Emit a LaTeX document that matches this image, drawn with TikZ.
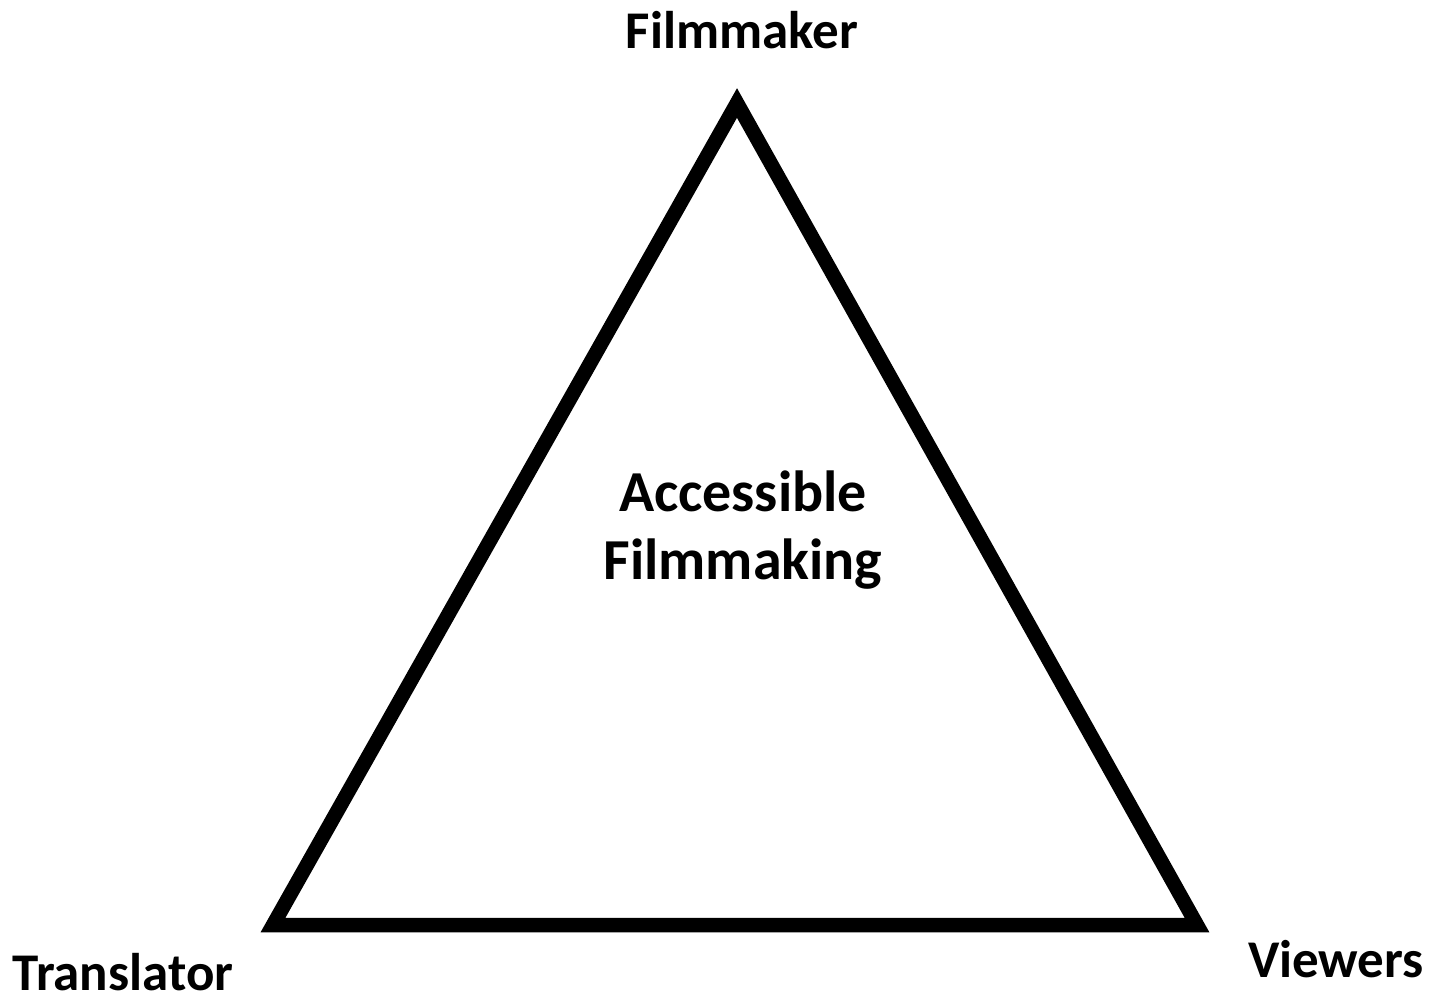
\documentclass[tikz,border=0pt]{standalone}
\usepackage{fontspec}
\setmainfont{Carlito}
\begin{document}
\begin{tikzpicture}[x=1pt,y=-1pt,
  lbl/.style={font=\bfseries\fontsize{53}{68}\selectfont, inner sep=0pt, align=center},
  mid/.style={font=\bfseries\fontsize{58}{68}\selectfont, inner sep=0pt, align=center}]
\useasboundingbox (0,0) rectangle (1435,997);
\coordinate (T) at (737,103);
\coordinate (L) at (273,925);
\coordinate (R) at (1197,925);
\draw[line width=14.5pt, line join=miter] (T) -- (L) -- (R) -- cycle;
\node[lbl] (fm) at (742,30) {Filmmaker};
\node[lbl] (tr) at (123,972) {Translator};
\node[lbl] (vw) at (1336,959) {Viewers};
\node[mid] (af) at (743,530) {Accessible\\Filmmaking};
\end{tikzpicture}
\end{document}
